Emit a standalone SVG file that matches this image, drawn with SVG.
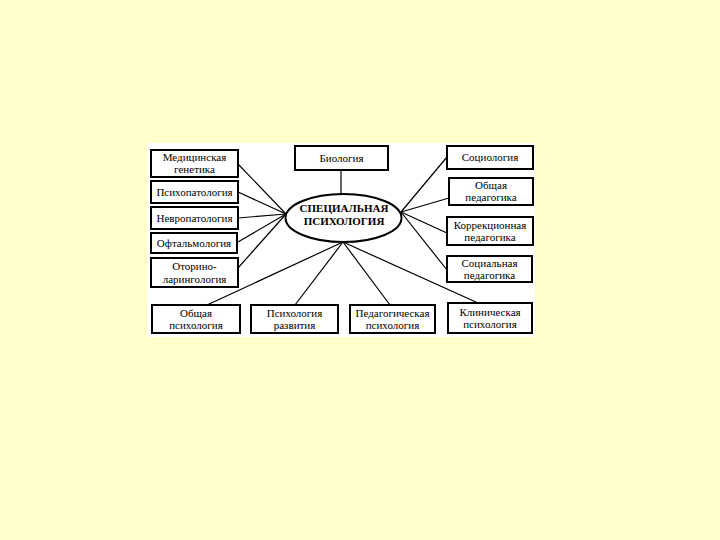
<svg xmlns="http://www.w3.org/2000/svg" width="720" height="540" viewBox="0 0 720 540">
<style>
.bx{fill:#fff;stroke:#000;stroke-width:2}
.ln{stroke:#000;stroke-width:1.2;fill:none}
text{font-family:"Liberation Serif","Times New Roman",serif;font-size:11px;fill:#000;text-anchor:middle}
.c{font-weight:bold;font-size:11px}
</style>
<rect x="0" y="0" width="720" height="540" fill="#FFFFCC"/>
<rect x="147" y="143" width="388" height="194" fill="#fff"/>
<g id="connectors">
<line class="ln" x1="341" y1="170" x2="341" y2="194"/>
<line class="ln" x1="238" y1="164" x2="286" y2="214"/>
<line class="ln" x1="238" y1="192" x2="286" y2="214"/>
<line class="ln" x1="238" y1="218" x2="286" y2="214"/>
<line class="ln" x1="238" y1="242" x2="286" y2="214"/>
<line class="ln" x1="238" y1="268" x2="286" y2="214"/>
<line class="ln" x1="401" y1="212" x2="447" y2="157"/>
<line class="ln" x1="401" y1="212" x2="449" y2="198"/>
<line class="ln" x1="401" y1="212" x2="447" y2="233"/>
<line class="ln" x1="401" y1="212" x2="447" y2="270"/>
<line class="ln" x1="343" y1="242" x2="207" y2="305"/>
<line class="ln" x1="343" y1="242" x2="295" y2="305"/>
<line class="ln" x1="343" y1="242" x2="390" y2="305"/>
<line class="ln" x1="343" y1="242" x2="478" y2="303"/>
</g>
<g id="center">
<ellipse cx="343.5" cy="218" rx="58" ry="24" fill="#fff" stroke="#000" stroke-width="2"/>
<text class="c" x="344" y="212">СПЕЦИАЛЬНАЯ</text>
<text class="c" x="344" y="225">ПСИХОЛОГИЯ</text>
</g>
<g id="biology">
<rect class="bx" x="295" y="146" width="93" height="24"/>
<text x="341.5" y="162">Биология</text>
</g>
<g id="medgen">
<rect class="bx" x="151" y="150" width="87" height="27"/>
<text x="194.5" y="161">Медицинская</text>
<text x="194.5" y="173">генетика</text>
</g>
<g id="psychopath">
<rect class="bx" x="151" y="181" width="87" height="22"/>
<text x="194.5" y="196">Психопатология</text>
</g>
<g id="neuropath">
<rect class="bx" x="151" y="207" width="87" height="22"/>
<text x="194.5" y="222">Невропатология</text>
</g>
<g id="ophthalm">
<rect class="bx" x="151" y="233" width="86" height="20"/>
<text x="194" y="247">Офтальмология</text>
</g>
<g id="otorhino">
<rect class="bx" x="151" y="258" width="87" height="29"/>
<text x="194.5" y="270">Оторино-</text>
<text x="194.5" y="283">ларингология</text>
</g>
<g id="genpsy">
<rect class="bx" x="152" y="305" width="88" height="28"/>
<text x="196" y="317">Общая</text>
<text x="196" y="329">психология</text>
</g>
<g id="devpsy">
<rect class="bx" x="251" y="305" width="87" height="28"/>
<text x="294.5" y="317">Психология</text>
<text x="294.5" y="329">развития</text>
</g>
<g id="pedpsy">
<rect class="bx" x="350" y="305" width="85" height="28"/>
<text x="392.5" y="317">Педагогическая</text>
<text x="392.5" y="329">психология</text>
</g>
<g id="clinpsy">
<rect class="bx" x="448" y="303" width="84" height="30"/>
<text x="490" y="316">Клиническая</text>
<text x="490" y="328">психология</text>
</g>
<g id="socped">
<rect class="bx" x="447" y="256" width="85" height="26"/>
<text x="489.5" y="267">Социальная</text>
<text x="489.5" y="279">педагогика</text>
</g>
<g id="corrped">
<rect class="bx" x="447" y="217" width="86" height="28"/>
<text x="490" y="229">Коррекционная</text>
<text x="490" y="241">педагогика</text>
</g>
<g id="genped">
<rect class="bx" x="449" y="178" width="84" height="27"/>
<text x="491" y="189">Общая</text>
<text x="491" y="201">педагогика</text>
</g>
<g id="sociology">
<rect class="bx" x="447" y="146" width="86" height="23"/>
<text x="490" y="161">Социология</text>
</g>
</svg>
